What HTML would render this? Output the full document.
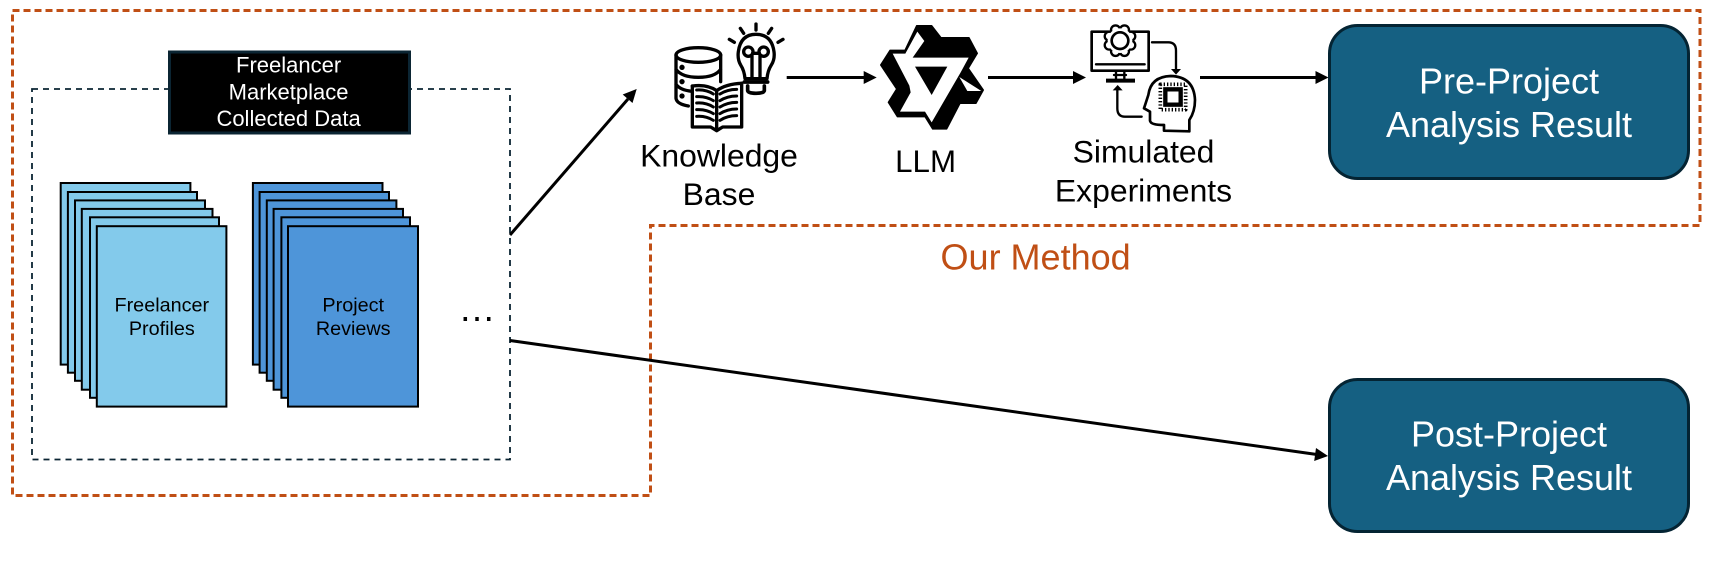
<!DOCTYPE html>
<html><head><meta charset="utf-8"><title>Diagram</title>
<style>html,body{margin:0;padding:0;background:#fff;width:1722px;height:578px;overflow:hidden}svg{display:block}text{font-family:"Liberation Sans",Arial,sans-serif;text-anchor:middle}</style>
</head><body>
<svg width="1722" height="578" viewBox="0 0 1722 578" xmlns="http://www.w3.org/2000/svg">
<rect width="1722" height="578" fill="#fff"/>
<!-- outer dashed -->
<path d="M12.5,10.5H1700V225.5H650.5V495.5H12.5Z" fill="none" stroke="#C04F15" stroke-width="3" stroke-dasharray="7 4"/>
<!-- inner dashed -->
<rect x="32" y="89" width="478" height="370.5" fill="none" stroke="#0B2533" stroke-width="1.8" stroke-dasharray="6 5"/>
<!-- header -->
<rect x="169.5" y="52" width="240" height="81" fill="#000" stroke="#0B2533" stroke-width="3"/>
<g fill="#fff" font-size="22"><text x="288.6" y="72.7">Freelancer</text><text x="288.6" y="99.6">Marketplace</text><text x="288.6" y="125.8">Collected Data</text></g>
<!-- light stack -->
<g fill="#83CAEB" stroke="#000" stroke-width="2">
<rect x="60.7" y="183" width="129.7" height="181.6"/>
<rect x="67.9" y="192" width="129.1" height="180.7"/>
<rect x="75" y="200.4" width="130" height="180.4"/>
<rect x="81.8" y="208.9" width="130.7" height="180.8"/>
<rect x="90" y="217.3" width="129" height="180.5"/>
<rect x="96.8" y="226.2" width="129.6" height="180.4"/>
</g>
<!-- blue stack -->
<g fill="#4E95D9" stroke="#000" stroke-width="2">
<rect x="252.9" y="183" width="129.6" height="181.6"/>
<rect x="259.6" y="192" width="129.4" height="180.7"/>
<rect x="266.8" y="200.4" width="129.6" height="180.4"/>
<rect x="273.6" y="208.9" width="129.4" height="180.8"/>
<rect x="281.4" y="217.3" width="128.6" height="180.5"/>
<rect x="288" y="226.2" width="130" height="180.4"/>
</g>
<g font-size="19.8" fill="#000"><text x="161.8" y="311.4">Freelancer</text><text x="161.8" y="335">Profiles</text><text x="353.2" y="311.4">Project</text><text x="353.2" y="335">Reviews</text></g>
<text x="477" y="321" font-size="37" fill="#000">…</text>
<!-- connectors -->
<g stroke="#000" stroke-width="3" fill="none">
<path d="M510,235L628,99"/>
<path d="M510,340.5L1316,454.4"/>
<path d="M786.7,77.5H865"/>
<path d="M988,77.5H1074"/>
<path d="M1200,77.5H1316"/>
</g>
<g fill="#000">
<polygon points="636.7,89 632.5,103 622.7,94.5"/>
<polygon points="1328,456 1314.2,461 1316,448"/>
<polygon points="876.7,77.5 863.7,71 863.7,84"/>
<polygon points="1086,77.5 1073,71 1073,84"/>
<polygon points="1328.5,77.5 1315.5,71 1315.5,84"/>
</g>
<!-- KB icon -->
<g transform="translate(620,0) scale(.33333)" fill="none" stroke="#000" stroke-width="10" stroke-linecap="round" stroke-linejoin="round">
<ellipse cx="235" cy="165" rx="67" ry="22"/>
<path d="M168,165V295Q170,312 205,318M302,165V245M168,208Q185,232 235,232Q285,232 302,208M168,253Q180,270 215,274"/>
<g fill="#000" stroke="none"><circle cx="186" cy="202" r="8"/><circle cx="186" cy="245" r="8"/><circle cx="186" cy="288" r="8"/></g>
<path d="M215,258V382H270L290,393L310,382H367V250H345V258" fill="#fff" stroke="none"/>
<path d="M217,258V381H272L290,392L308,381H365V250"/>
<path d="M217,258Q262,252 290,272Q318,252 365,250M290,272V390"/>
<path stroke-width="9" d="M230,270Q258,268 280,282M230,290Q258,288 280,302M230,309Q258,307 280,321M230,329Q258,327 280,341M230,349Q258,347 280,361M300,282Q322,268 350,268M300,302Q322,288 350,288M300,321Q322,307 350,307M300,341Q322,327 350,327M300,361Q322,347 350,347"/>
<path d="M375,236Q373,212 362,195Q352,178 355,155Q362,103 408,103Q455,103 462,155Q465,178 454,195Q443,212 441,236Z"/>
<circle cx="385" cy="155" r="14"/><circle cx="431" cy="155" r="14"/>
<path d="M396,165V234M420,165V234M398,160H418"/>
<path d="M373,246H443M383,258V272Q385,280 408,280Q431,280 433,272V258" stroke-width="11"/>
<path d="M408,72V90M361,85L371,100M455,85L445,100M328,118L343,127M489,118L474,127" stroke-width="10"/>
</g>
<!-- LLM icon -->
<g transform="translate(870,15) scale(.33333)">
<polygon fill="#000" stroke="#000" stroke-width="4" stroke-linejoin="round" points="140,32 185,32 213,68 297,68 322,115 295,160 340,225 318,265 270,265 230,342 188,342 165,305 82,305 55,262 80,222 32,150 60,106 105,106"/>
<path fill="#fff" fill-rule="evenodd" d="M68,116L106,116L142,50L163,78L128,128L296,128L272,172L185,322L165,290L90,290L122,232L118,212ZM135,155L232,155L185,240Z"/>
<polygon fill="#fff" points="268,186 292,228 334,228"/>
</g>
<!-- Sim icon -->
<g transform="translate(1040,10) scale(.33333)" fill="none" stroke="#000" stroke-width="8" stroke-linecap="round" stroke-linejoin="round">
<rect x="155" y="65" width="171" height="117"/>
<path d="M168,163H314" stroke-width="7"/>
<path d="M228,182V207M253,182V207M222,195H258" stroke-width="7"/>
<path d="M198,212H285" stroke-width="12" stroke-linecap="butt"/>
<g fill="#fff" stroke-width="7">
<circle cx="272.3" cy="105.4" r="13.5"/><circle cx="253.4" cy="124.3" r="13.5"/><circle cx="226.6" cy="124.3" r="13.5"/><circle cx="207.7" cy="105.4" r="13.5"/><circle cx="207.7" cy="78.6" r="13.5"/><circle cx="226.6" cy="59.7" r="13.5"/><circle cx="253.4" cy="59.7" r="13.5"/><circle cx="272.3" cy="78.6" r="13.5"/>
</g>
<circle cx="240" cy="92" r="37" fill="#fff" stroke="none"/>
<circle cx="240" cy="92" r="25"/>
<path d="M336,97H385Q408,97 408,122V180" stroke-width="7"/>
<polygon fill="#000" stroke="none" points="393,177 423,177 408,194"/>
<path d="M305,320H255Q232,320 232,295V240" stroke-width="7"/>
<polygon fill="#000" stroke="none" points="218,241 248,241 233,225"/>
<path d="M448,364V330Q465,305 465,270Q462,200 392,198Q332,200 325,255L312,295L330,305V332Q332,345 372,345V362Z" fill="#fff" stroke-width="8"/>
<rect x="376" y="238" width="46" height="46" stroke-width="13" stroke-linejoin="miter"/>
<rect x="361" y="223" width="76" height="76" stroke-width="11" stroke-dasharray="4 6" stroke-linecap="butt"/>
</g>
<!-- labels -->
<g font-size="31.9" fill="#000">
<text x="719" y="166.7">Knowledge</text><text x="719" y="205">Base</text>
<text x="1143.5" y="162.3">Simulated</text><text x="1143.5" y="201.7">Experiments</text>
</g>
<text x="925.6" y="172" font-size="31.3" fill="#000">LLM</text>
<text x="1035.6" y="269.3" font-size="36" fill="#C04F15">Our Method</text>
<!-- result boxes -->
<rect x="1329.5" y="25.5" width="359" height="153" rx="28" fill="#156082" stroke="#042433" stroke-width="3"/>
<rect x="1329.5" y="379.5" width="359" height="152" rx="28" fill="#156082" stroke="#042433" stroke-width="3"/>
<g font-size="36" fill="#fff">
<text x="1509" y="93.3">Pre-Project</text><text x="1509" y="137">Analysis Result</text>
<text x="1509" y="446.7">Post-Project</text><text x="1509" y="490">Analysis Result</text>
</g>
</svg>
</body></html>
